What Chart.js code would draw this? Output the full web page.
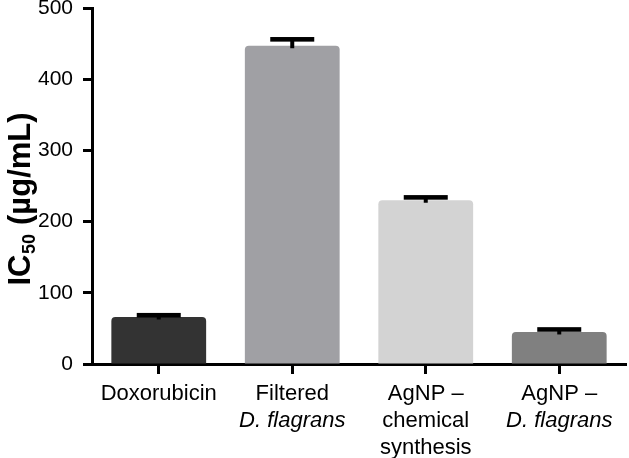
<!DOCTYPE html>
<html>
<head>
<meta charset="utf-8">
<script src="https://cdn.jsdelivr.net/npm/chart.js@4"></script>
<style>
  html, body { margin: 0; padding: 0; background: #fff; }
  #wrap { width: 629px; height: 458px; }
</style>
</head>
<body>
<div id="wrap"><canvas id="chart" width="629" height="458"></canvas></div>
<script>
// data
const categories = ['Doxorubicin', 'Filtered D. flagrans', 'AgNP – chemical synthesis', 'AgNP – D. flagrans'];
const ic50Means = [66, 447, 230, 45];
const ic50Errors = [2.5, 9, 4, 3.5];
const yTicks = [0, 100, 200, 300, 400, 500];

// how the category labels break into lines (true = italic)
const labelLines = [
    [['Doxorubicin', false]],
    [['Filtered', false], ['D. flagrans', true]],
    [['AgNP –', false], ['chemical', false], ['synthesis', false]],
    [['AgNP –', false], ['D. flagrans', true]]
];

const barColors = ['#333333', '#a0a0a4', '#d3d3d3', '#808080'];
const FONT = "'Liberation Sans', Arial, sans-serif";

// error bars: cap at mean + error, short stem down to the bar top
const errorBars = {
    id: 'errorBars',
    afterDatasetsDraw(chart) {
        const ctx = chart.ctx;
        const yScale = chart.scales.y;
        const meta = chart.getDatasetMeta(0);
        ctx.save();
        ctx.fillStyle = '#000';
        meta.data.forEach((bar, i) => {
            const top = yScale.getPixelForValue(ic50Means[i] + ic50Errors[i]);
            const base = yScale.getPixelForValue(ic50Means[i]);
            ctx.fillRect(bar.x - 22, top - 2.3, 44, 4.6);
            ctx.fillRect(bar.x - 2, top, 4, base - top + 2.5);
        });
        ctx.restore();
    }
};

// category labels, with italics for the species name
const categoryLabels = {
    id: 'categoryLabels',
    afterDraw(chart) {
        const ctx = chart.ctx;
        const xScale = chart.scales.x;
        const bottom = chart.chartArea.bottom;
        ctx.save();
        ctx.fillStyle = '#000';
        ctx.textAlign = 'center';
        ctx.textBaseline = 'alphabetic';
        labelLines.forEach((lines, i) => {
            const x = xScale.getPixelForValue(i);
            lines.forEach((line, k) => {
                ctx.font = (line[1] ? 'italic ' : '') + '22px ' + FONT;
                ctx.fillText(line[0], x, bottom + 36 + k * 27);
            });
        });
        ctx.restore();
    }
};

// y axis title with subscript
const yTitle = {
    id: 'yTitle',
    afterDraw(chart) {
        const ctx = chart.ctx;
        const main = 'bold 31px ' + FONT;
        const sub = 'bold 18px ' + FONT;
        ctx.save();
        ctx.font = main;
        const w1 = ctx.measureText('IC').width;
        const w3 = ctx.measureText(' (µg/mL)').width;
        ctx.font = sub;
        const w2 = ctx.measureText('50').width + 1;
        const total = w1 + w2 + w3;
        ctx.translate(30, 199);
        ctx.rotate(-Math.PI / 2);
        ctx.fillStyle = '#000';
        ctx.textBaseline = 'alphabetic';
        ctx.textAlign = 'left';
        let x = -total / 2;
        ctx.font = main;
        ctx.fillText('IC', x, 0);
        x += w1;
        ctx.font = sub;
        ctx.fillText('50', x + 0.5, 5);
        x += w2;
        ctx.font = main;
        ctx.fillText(' (µg/mL)', x, 0);
        ctx.restore();
    }
};

const ctx = document.getElementById('chart').getContext('2d');
new Chart(ctx, {
    type: 'bar',
    data: {
        labels: categories,
        datasets: [{
            data: ic50Means,
            backgroundColor: barColors,
            borderRadius: { topLeft: 4, topRight: 4, bottomLeft: 0, bottomRight: 0 },
            borderSkipped: false,
            barPercentage: 0.71,
            categoryPercentage: 1.0
        }]
    },
    options: {
        responsive: false,
        animation: false,
        layout: { padding: { top: 8, right: 3, left: 0, bottom: 0 } },
        plugins: {
            legend: { display: false },
            tooltip: { enabled: false }
        },
        scales: {
            x: {
                offset: true,
                grid: {
                    offset: false,
                    drawOnChartArea: false,
                    drawTicks: true,
                    tickLength: 10,
                    tickWidth: 3,
                    tickColor: '#000'
                },
                border: { color: '#000', width: 3 },
                ticks: { display: false },
                afterFit(scale) {
                    scale.height = 94;
                    scale.paddingLeft = 0;
                    scale.paddingRight = 0;
                }
            },
            y: {
                min: 0,
                max: 500,
                afterBuildTicks(scale) {
                    scale.ticks = yTicks.map(v => ({ value: v }));
                },
                grid: {
                    drawOnChartArea: false,
                    drawTicks: true,
                    tickLength: 9,
                    tickWidth: 3,
                    tickColor: '#000'
                },
                border: { color: '#000', width: 3 },
                ticks: {
                    color: '#000',
                    padding: 10,
                    font: { family: FONT, size: 21 }
                },
                afterFit(scale) {
                    scale.width = 92;
                    scale.paddingTop = 0;
                    scale.paddingBottom = 0;
                }
            }
        }
    },
    plugins: [errorBars, categoryLabels, yTitle]
});
</script>
</body>
</html>
